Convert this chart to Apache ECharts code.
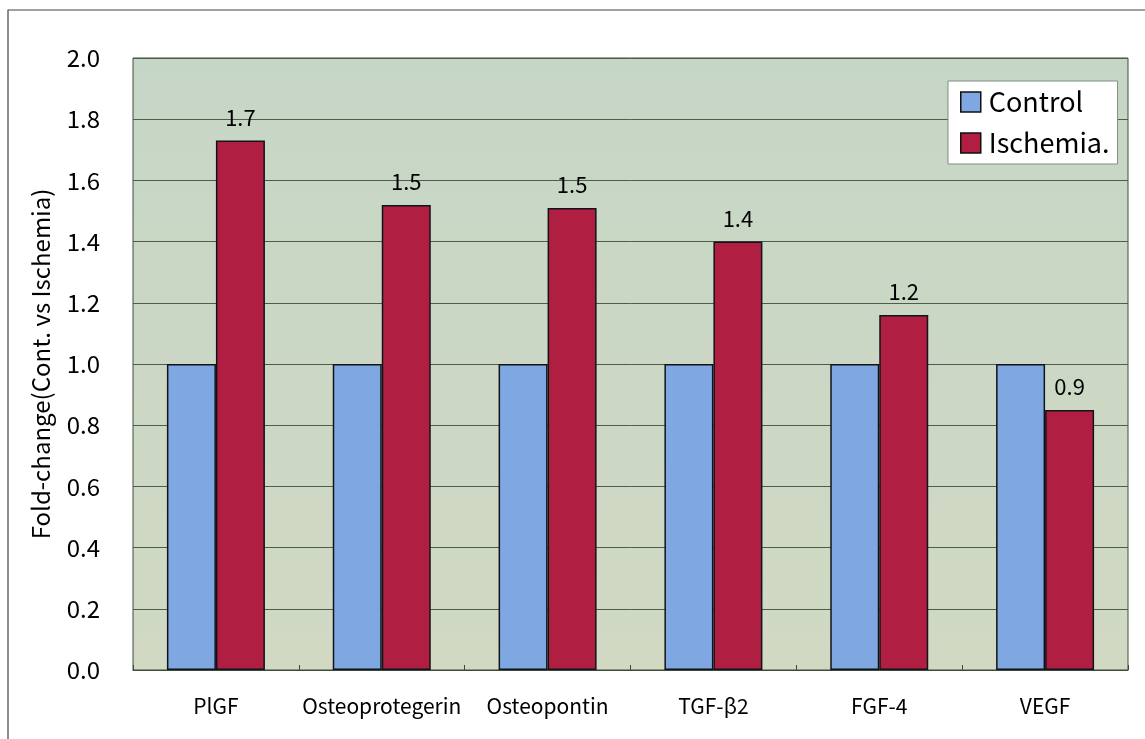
<!DOCTYPE html>
<html>
<head>
<meta charset="utf-8">
<script src="https://cdn.jsdelivr.net/npm/echarts@6/dist/echarts.min.js"></script>
<style>
  html, body { margin: 0; padding: 0; background: #ffffff; }
  #chart { width: 1145px; height: 739px; }
</style>
</head>
<body>
<div id="chart"></div>
<script>
// Growth-factor fold change, control vs ischemia
const categories = ['PlGF', 'Osteoprotegerin', 'Osteopontin', 'TGF-β2', 'FGF-4', 'VEGF'];
const controlValues = [1.0, 1.0, 1.0, 1.0, 1.0, 1.0];
const ischemiaValues = [1.73, 1.52, 1.51, 1.40, 1.16, 0.85];
const seriesNames = ['Control', 'Ischemia.'];
const yTicks = { min: 0, max: 2.0, interval: 0.2 };

const FONT = '"Noto Sans CJK JP", "Liberation Sans", sans-serif';

const chart = echarts.init(document.getElementById('chart'), null, { renderer: 'canvas' });

chart.setOption({
  animation: false,
  backgroundColor: '#ffffff',
  textStyle: { fontFamily: FONT, color: '#000000' },
  graphic: [
    {
      // outer frame around the whole figure
      type: 'rect',
      shape: { x: 8, y: 10, width: 1160, height: 760 },
      style: { fill: 'none', stroke: '#3a4a3a', lineWidth: 1.2 },
      z: 0
    }
  ],
  grid: {
    left: 133,
    right: 17,
    top: 58,
    bottom: 69,
    show: true,
    backgroundColor: new echarts.graphic.LinearGradient(0, 0, 0, 1, [
      { offset: 0, color: '#c6d6c6' },
      { offset: 1, color: '#d1d9c3' }
    ]),
    borderColor: '#3c4c3c',
    borderWidth: 1
  },
  legend: {
    data: seriesNames,
    orient: 'vertical',
    left: 948,
    top: 81,
    backgroundColor: '#ffffff',
    borderColor: '#7f8f7f',
    borderWidth: 1,
    borderRadius: 0,
    padding: [7, 8, 7, 12],
    itemGap: 13,
    itemWidth: 20,
    itemHeight: 20,
    icon: 'rect',
    itemStyle: { borderColor: '#111111', borderWidth: 1.5 },
    textStyle: { fontSize: 27, fontFamily: FONT, color: '#000000', lineHeight: 28, padding: [0, 0, 0, 3] }
  },
  xAxis: {
    type: 'category',
    data: categories,
    axisLine: { show: true, lineStyle: { color: '#3c4c3c', width: 1 } },
    axisTick: { show: true, inside: true, length: 5, alignWithLabel: false, lineStyle: { color: '#3c4c3c' } },
    axisLabel: { fontSize: 21, color: '#000000', margin: 26, fontFamily: FONT, interval: 0 },
    splitLine: { show: false }
  },
  yAxis: {
    type: 'value',
    min: yTicks.min,
    max: yTicks.max,
    interval: yTicks.interval,
    name: 'Fold-change(Cont. vs Ischemia)',
    nameLocation: 'middle',
    nameRotate: 90,
    nameGap: 80,
    nameTextStyle: { fontSize: 24, color: '#000000', fontFamily: FONT },
    axisLine: { show: false },
    axisTick: { show: false },
    axisLabel: {
      fontSize: 24,
      color: '#000000',
      margin: 33,
      fontFamily: FONT,
      formatter: v => v.toFixed(1)
    },
    splitLine: { show: true, lineStyle: { color: '#4d5d4d', width: 1 } }
  },
  series: [
    {
      name: seriesNames[0],
      type: 'bar',
      data: controlValues,
      barWidth: 49,
      barGap: '0%',
      itemStyle: { color: '#7fa7e1', borderColor: '#101418', borderWidth: 1.5 }
    },
    {
      name: seriesNames[1],
      type: 'bar',
      data: ischemiaValues,
      barWidth: 49,
      barGap: '0%',
      itemStyle: { color: '#b01f42', borderColor: '#101418', borderWidth: 1.5 },
      label: {
        show: true,
        position: 'top',
        distance: 12,
        fontSize: 22,
        color: '#000000',
        fontFamily: FONT,
        formatter: p => (Math.round(p.value * 10 + 1e-6) / 10).toFixed(1)
      }
    }
  ]
});
</script>
</body>
</html>
